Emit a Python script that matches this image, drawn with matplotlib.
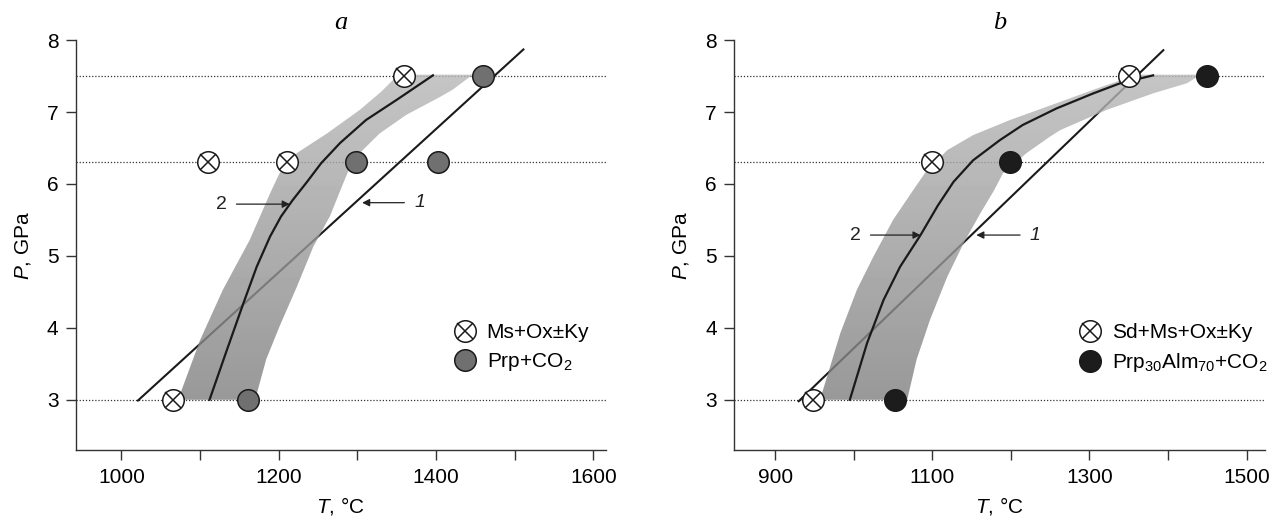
import numpy as np
import matplotlib.pyplot as plt
from matplotlib.patches import Polygon
from matplotlib.lines import Line2D

plt.rcParams['font.family'] = ['Liberation Sans', 'DejaVu Sans']
plt.rcParams['mathtext.fontset'] = 'custom'
plt.rcParams['mathtext.rm'] = 'Liberation Sans'
plt.rcParams['mathtext.it'] = 'Liberation Sans:italic'

# ---- panel a ----
a_cross_T = [1065, 1110, 1211, 1359]
a_cross_P = [3.0, 6.3, 6.3, 7.5]
a_dot_T = [1161, 1298, 1402, 1460]
a_dot_P = [3.0, 6.3, 6.3, 7.5]
a_line1_T = [1020, 1512]
a_line1_P = [2.98, 7.88]
a_curve2_T = [1112, 1134, 1155, 1172, 1189, 1203, 1218, 1236, 1254, 1278, 1311, 1350, 1396]
a_curve2_P = [3.0, 3.69, 4.34, 4.85, 5.27, 5.55, 5.78, 6.03, 6.29, 6.57, 6.89, 7.17, 7.51]
a_band_left_T = [1072, 1100, 1129, 1163, 1189, 1201, 1223, 1261, 1303, 1330, 1352]
a_band_left_P = [3.0, 3.83, 4.53, 5.22, 5.87, 6.15, 6.43, 6.70, 7.03, 7.28, 7.52]
a_band_right_T = [1450, 1443, 1421, 1405, 1362, 1328, 1303, 1290, 1282, 1265, 1244, 1223, 1201, 1184, 1170]
a_band_right_P = [7.52, 7.49, 7.31, 7.21, 6.96, 6.70, 6.43, 6.22, 6.01, 5.55, 5.13, 4.57, 4.02, 3.56, 3.0]
a_labels = ['Ms+Ox±Ky', 'Prp+CO$_2$']

# ---- panel b ----
b_cross_T = [948, 1099, 1350]
b_cross_P = [3.0, 6.3, 7.5]
b_dot_T = [1052, 1199, 1450]
b_dot_P = [3.0, 6.3, 7.5]
b_line1_T = [929, 1395]
b_line1_P = [2.97, 7.87]
b_curve2_T = [995, 1017, 1038, 1059, 1085, 1107, 1127, 1152, 1186, 1215, 1258, 1305, 1339, 1381]
b_curve2_P = [3.0, 3.79, 4.39, 4.85, 5.29, 5.70, 6.03, 6.33, 6.61, 6.82, 7.05, 7.26, 7.4, 7.51]
b_band_left_T = [957, 966, 983, 1004, 1025, 1050, 1076, 1093, 1119, 1152, 1199, 1270, 1305, 1339, 1360]
b_band_left_P = [3.0, 3.32, 3.93, 4.53, 4.99, 5.5, 5.92, 6.19, 6.47, 6.68, 6.89, 7.17, 7.31, 7.44, 7.52]
b_band_right_T = [1442, 1424, 1381, 1322, 1263, 1250, 1220, 1190, 1178, 1161, 1140, 1119, 1097, 1080, 1068]
b_band_right_P = [7.52, 7.4, 7.26, 7.03, 6.75, 6.66, 6.43, 6.15, 5.90, 5.59, 5.18, 4.71, 4.11, 3.56, 3.0]
b_labels = ['Sd+Ms+Ox±Ky', 'Prp$_{30}$Alm$_{70}$+CO$_2$']

guide_P = [3.0, 6.3, 7.5]
P_ticks = [3, 4, 5, 6, 7, 8]

fig = plt.figure(figsize=(12.76, 5.21), dpi=100)
ax_a = fig.add_axes([0.0594, 0.136, 0.4155, 0.787])
ax_b = fig.add_axes([0.5755, 0.136, 0.4156, 0.787])

INK = '#1a1a1a'


def draw_panel(ax, title, xlim, major, minor, cross_T, cross_P, dot_T, dot_P, dot_color,
               line1_T, line1_P, curve_T, curve_P, left_T, left_P, right_T, right_P,
               labels, leg_anchor, arrow2, arrow1):
    for p in guide_P:
        ax.axhline(p, color='#333333', lw=0.9, ls=(0, (1, 1.5)), zorder=1)

    ax.plot(line1_T, line1_P, color=INK, lw=1.5, zorder=1.5, solid_capstyle='butt')

    # gradient band clipped to its outline
    pts = np.column_stack([left_T + right_T, left_P + right_P])
    poly = Polygon(pts, closed=True, facecolor='none', edgecolor='none')
    ax.add_patch(poly)
    grad = np.linspace(0.5, 0.72, 100)[:, None]
    im = ax.imshow(grad, cmap='gray', vmin=0, vmax=1, origin='lower', aspect='auto',
                   extent=(xlim[0], xlim[1], 3.0, 7.55), alpha=0.8, zorder=2,
                   interpolation='bilinear')
    im.set_clip_path(poly)

    ax.plot(curve_T, curve_P, color=INK, lw=1.6, zorder=3, solid_joinstyle='round')

    ax.plot(cross_T, cross_P, ls='none', marker='o', ms=15.5, mfc='white', mec=INK, mew=1.1, zorder=4)
    ax.plot(cross_T, cross_P, ls='none', marker='x', ms=11, mec=INK, mew=1.1, zorder=5)
    ax.plot(dot_T, dot_P, ls='none', marker='o', ms=15.5, mfc=dot_color, mec=INK, mew=1.1, zorder=4)

    # arrows with labels 2 and 1
    for (txt, lab, tip, style) in [('2', arrow2[0], arrow2[1], 'normal'), ('1', arrow1[0], arrow1[1], 'italic')]:
        ax.annotate(txt, xy=tip, xytext=lab, ha='center', va='center', fontsize=14,
                    fontstyle=style, color='#222222', zorder=6,
                    arrowprops=dict(arrowstyle='-|>', color='#222222', lw=0.9,
                                    mutation_scale=11, shrinkA=5, shrinkB=0))

    h_cross = (Line2D([], [], ls='none', marker='o', ms=15.5, mfc='white', mec=INK, mew=1.1),
               Line2D([], [], ls='none', marker='x', ms=11, mec=INK, mew=1.1))
    h_dot = Line2D([], [], ls='none', marker='o', ms=15.5, mfc=dot_color, mec=INK, mew=1.1)
    ax.legend([h_cross, h_dot], labels, loc='upper left', bbox_to_anchor=leg_anchor,
              bbox_transform=ax.transData, frameon=False, borderaxespad=0, borderpad=0,
              handlelength=1.1, handletextpad=0.5, labelspacing=0.45, fontsize=15)

    ax.set_xlim(*xlim)
    ax.set_ylim(2.3, 8.0)
    ax.set_xticks(major)
    ax.set_xticks(minor, minor=True)
    ax.set_yticks(P_ticks)
    ax.tick_params(which='both', direction='out', length=7.5, width=1, color='#333333',
                   labelsize=15, pad=5)
    for s in ['top', 'right']:
        ax.spines[s].set_visible(False)
    for s in ['left', 'bottom']:
        ax.spines[s].set_color('#333333')
        ax.spines[s].set_linewidth(1)
    ax.set_xlabel(r'$T$, °C', fontsize=15, labelpad=6)
    ax.set_ylabel(r'$P$, GPa', fontsize=15, labelpad=10)
    ax.set_title(title, fontstyle='italic', family='Liberation Serif', fontsize=19, pad=8)


draw_panel(ax_a, 'a', (942, 1616), [1000, 1200, 1400, 1600], [1100, 1300, 1500],
           a_cross_T, a_cross_P, a_dot_T, a_dot_P, '#707070',
           a_line1_T, a_line1_P, a_curve2_T, a_curve2_P,
           a_band_left_T, a_band_left_P, a_band_right_T, a_band_right_P,
           a_labels, (1422, 4.07), ((1127, 5.72), (1214, 5.72)), ((1379, 5.74), (1306, 5.74)))

draw_panel(ax_b, 'b', (848, 1523), [900, 1100, 1300, 1500], [1000, 1200, 1400],
           b_cross_T, b_cross_P, b_dot_T, b_dot_P, '#1c1c1c',
           b_line1_T, b_line1_P, b_curve2_T, b_curve2_P,
           b_band_left_T, b_band_left_P, b_band_right_T, b_band_right_P,
           b_labels, (1286, 4.07), ((1002, 5.29), (1085, 5.29)), ((1231, 5.29), (1156, 5.29)))

fig.savefig('out.png', dpi=100)
